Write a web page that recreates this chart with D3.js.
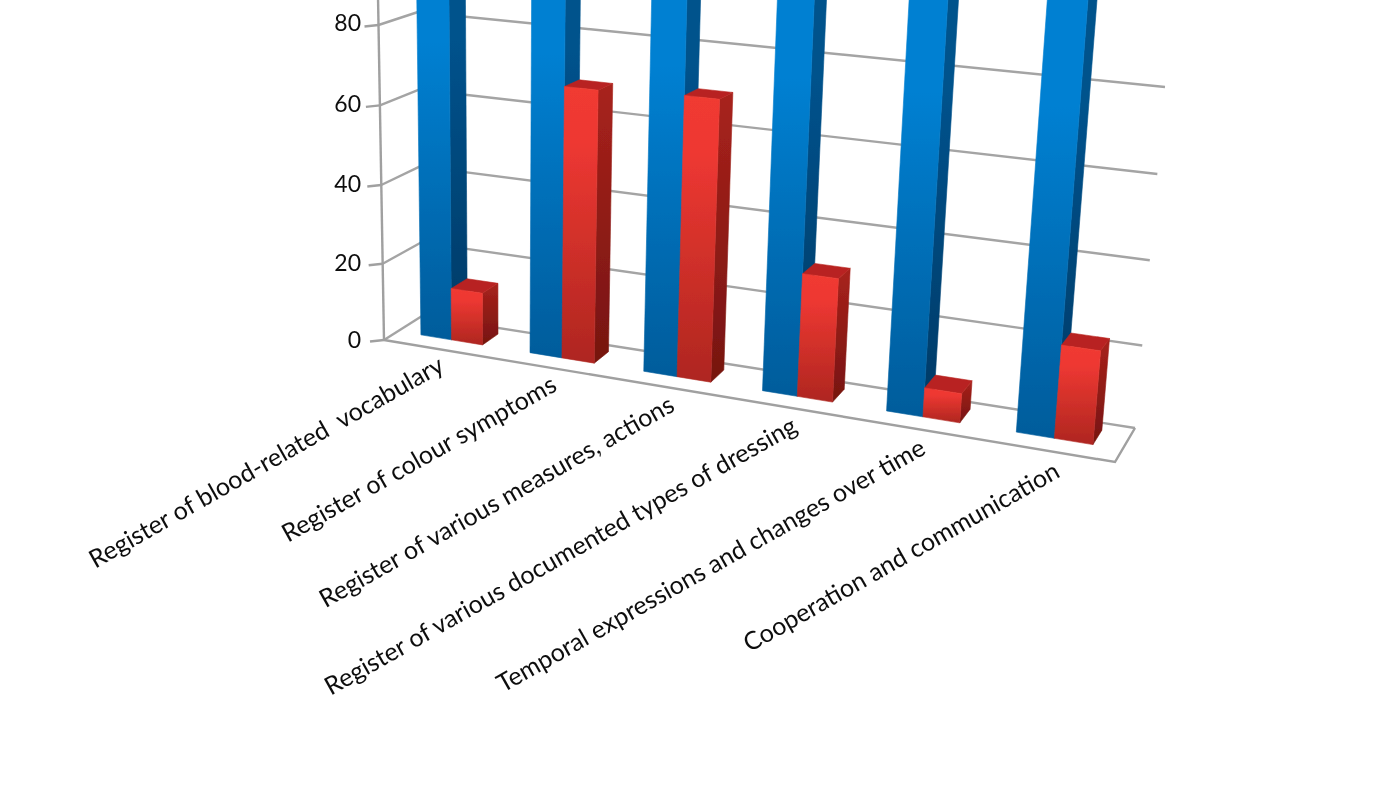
<!DOCTYPE html>
<html>
<head>
<meta charset="utf-8">
<title>Register chart</title>
<script src="https://d3js.org/d3.v7.min.js"></script>
<style>
    html, body { margin: 0; padding: 0; background: #fff; overflow: hidden; }
    text { font-family: Lato, "Open Sans", sans-serif; fill: #111; }
    .gridline { stroke: #a4a4a4; stroke-width: 2.4; fill: none; }
    .axisline { stroke: #a0a0a0; stroke-width: 2.4; fill: none; }
</style>
</head>
<body>
<div id="chart"></div>
<script>
var categories = [
    "Register of blood-related  vocabulary",
    "Register of colour symptoms",
    "Register of various measures, actions",
    "Register of various documented types of dressing",
    "Temporal expressions and changes over time",
    "Cooperation and communication"
];
var blueValues = [100, 100, 100, 100, 100, 100];
var redValues = [13.5, 68, 69, 30, 7, 22];
var yTicks = [0, 20, 40, 60, 80];
var yMax = 100;

var width = 1400, height = 786;

//the plot box as the original 3D chart leaves it on the page
var floor = {frontLeft: [384, 340], backLeft: [422, 316], frontRight: [1115, 462], backRight: [1135, 428]};
var rise = {frontLeft: [-5.5, -315], backLeft: [-4, -304], frontRight: [30, -360], backRight: [30, -341]};

var depthFront = 0.37, depthBack = 0.80;

//value -> share of the height of the 80 line, bends slightly with the perspective
var yScale = d3.scaleLinear()
    .domain(yTicks.concat([yMax]))
    .range([0, 0.242, 0.492, 0.745, 1, 1.26]);

var xBand = d3.scaleBand()
    .domain(categories)
    .range([0, 1])
    .paddingInner(0.43)
    .paddingOuter(0.215);

// Foreshortening along the category axis
function warp(t) {
    var k = 1.14;
    return t / (t + (1 - t) * k);
}

function mix(a, b, s) {
    return [a[0] + (b[0] - a[0]) * s, a[1] + (b[1] - a[1]) * s];
}

// f along the categories, d into the depth, v is the value
function project(f, d, v) {
    var base = mix(mix(floor.frontLeft, floor.backLeft, d), mix(floor.frontRight, floor.backRight, d), f);
    var up = mix(mix(rise.frontLeft, rise.backLeft, d), mix(rise.frontRight, rise.backRight, d), f);
    var s = yScale(v);
    return [base[0] + up[0] * s, base[1] + up[1] * s];
}

var svg = d3.select("#chart").append("svg")
    .attr("width", width)
    .attr("height", height)
    .style("display", "block");

var defs = svg.append("defs");

var soft = defs.append("filter").attr("id", "soft")
    .attr("filterUnits", "userSpaceOnUse")
    .attr("x", 0).attr("y", 0).attr("width", width).attr("height", height);
soft.append("feGaussianBlur").attr("stdDeviation", 0.7);

function addGradient(id, stops) {
    var g = defs.append("linearGradient").attr("id", id)
        .attr("x1", 0).attr("y1", 0).attr("x2", 0).attr("y2", 1);
    stops.forEach(function (s) {
        g.append("stop").attr("offset", s[0]).attr("stop-color", s[1]);
    });
}
addGradient("blueFront", [[0.25, "#0080d2"], [1, "#005c9b"]]);
addGradient("blueSide", [[0.25, "#00528c"], [1, "#003a66"]]);
addGradient("redFront", [[0, "#f03a33"], [0.2, "#ee3832"], [1, "#ae2620"]]);
addGradient("redSide", [[0, "#a8221c"], [1, "#761510"]]);

var plot = svg.append("g").attr("filter", "url(#soft)");

var line = d3.line();

// Back wall gridlines
plot.selectAll(".gridline.back")
    .data(yTicks)
    .enter()
    .append("path")
    .attr("class", "gridline back")
    .attr("d", function (v) { return line([project(0, 1, v), project(1, 1, v)]); });

// Side wall gridlines
plot.selectAll(".gridline.side")
    .data(yTicks)
    .enter()
    .append("path")
    .attr("class", "gridline side")
    .attr("d", function (v) { return line([project(0, 0, v), project(0, 1, v)]); });

// Axis, floor edges and ticks
plot.append("path").attr("class", "axisline")
    .attr("d", line([project(0, 0, 0), project(0, 0, yMax)]));
plot.append("path").attr("class", "axisline")
    .attr("d", line([project(0, 0, 0), project(1, 0, 0), project(1, 1, 0)]));

plot.selectAll(".tick")
    .data(yTicks)
    .enter()
    .append("path")
    .attr("class", "axisline tick")
    .attr("d", function (v) {
        var p = project(0, 0, v);
        return line([p, [p[0] - 14, p[1] + 1.5]]);
    });

plot.selectAll(".ylabel")
    .data(yTicks)
    .enter()
    .append("text")
    .attr("class", "ylabel")
    .attr("x", 361)
    .attr("y", function (v) { return project(0, 0, v)[1] - 1 - v * 0.03; })
    .attr("text-anchor", "end")
    .attr("dominant-baseline", "central")
    .style("font-size", "23px")
    .text(function (v) { return v; });

// One 3D column: side, top and front faces
function drawColumn(g, t0, t1, v, front, side, topColor) {
    var f0 = warp(t0), f1 = warp(t1);
    //thin stroke in the face's own paint closes the seams between faces
    function face(paint, points) {
        g.append("path")
            .attr("fill", paint)
            .attr("stroke", paint)
            .attr("stroke-width", 0.6)
            .attr("d", line(points) + "Z");
    }
    face("url(#" + side + ")", [project(f1, depthFront, 0), project(f1, depthBack, 0),
        project(f1, depthBack, v), project(f1, depthFront, v)]);
    face(topColor, [project(f0, depthFront, v), project(f1, depthFront, v),
        project(f1, depthBack, v), project(f0, depthBack, v)]);
    face("url(#" + front + ")", [project(f0, depthFront, 0), project(f1, depthFront, 0),
        project(f1, depthFront, v), project(f0, depthFront, v)]);
}

categories.forEach(function (c, i) {
    var g = plot.append("g").attr("class", "group");
    var t0 = xBand(c), tm = t0 + xBand.bandwidth() / 2, t1 = t0 + xBand.bandwidth();
    drawColumn(g, t0, tm, blueValues[i], "blueFront", "blueSide", "#004f86");
    drawColumn(g, tm, t1, redValues[i], "redFront", "redSide", "#b82420");
});

// Category labels, slanted and ending under their columns
plot.selectAll(".xlabel")
    .data(categories)
    .enter()
    .append("text")
    .attr("class", "xlabel")
    .attr("transform", function (c) {
        var p = project(warp(xBand(c) + xBand.bandwidth() / 2), -0.5, 0);
        return "translate(" + (p[0] + 26) + "," + (p[1] + 9) + ") rotate(-29.5)";
    })
    .attr("text-anchor", "end")
    .style("font-size", "25px")
    .style("white-space", "pre")
    .text(function (c) { return c; });
</script>
</body>
</html>
